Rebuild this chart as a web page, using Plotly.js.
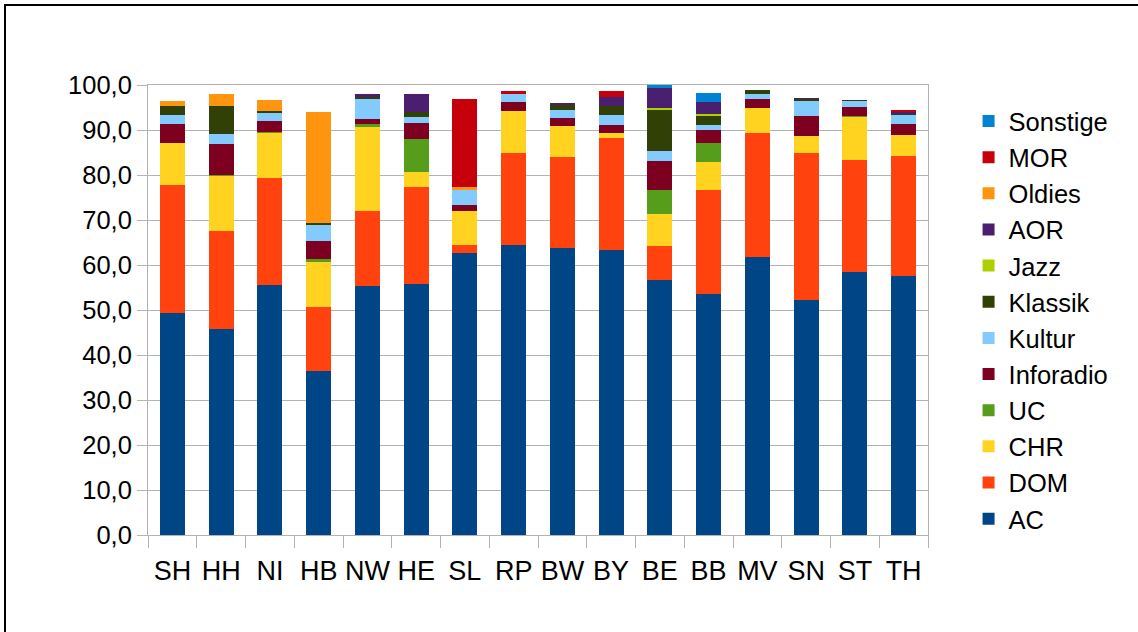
<!DOCTYPE html>
<html>
<head>
<meta charset="utf-8">
<script src="https://cdn.plot.ly/plotly-3.0.1.min.js"></script>
<style>
  html, body { margin: 0; padding: 0; background: #fff; }
  #wrap { position: relative; width: 1138px; height: 632px; overflow: hidden; }
  #chart { position: absolute; left: 0; top: 0; width: 1138px; height: 632px; }
  #frame { position: absolute; left: 4px; top: 4px; width: 1200px; height: 700px;
           border-left: 2px solid #000; border-top: 2px solid #000; pointer-events: none; }
</style>
</head>
<body>
<div id="wrap">
  <div id="chart"></div>
  <div id="frame"></div>
</div>
<script>
const categories = ["SH","HH","NI","HB","NW","HE","SL","RP","BW","BY","BE","BB","MV","SN","ST","TH"];

const AC       = [49.3, 45.7, 55.6, 36.5, 55.4, 55.8, 62.7, 64.5, 63.8, 63.4, 56.7, 53.6, 61.7, 52.3, 58.5, 57.6];
const DOM      = [28.5, 21.9, 23.7, 14.2, 16.7, 21.6,  1.8, 20.5, 20.3, 24.9,  7.6, 23.1, 27.7, 32.7, 24.9, 26.7];
const CHR      = [ 9.4, 12.2, 10.0, 10.0, 18.6,  3.3,  7.6,  9.3,  6.9,  1.1,  7.1,  6.3,  5.4,  3.7,  9.6,  4.5];
const UC       = [ 0.0,  0.3,  0.2,  0.7,  0.7,  7.4,  0.0,  0.0,  0.0,  0.0,  5.3,  4.2,  0.0,  0.0,  0.2,  0.2];
const Inforadio= [ 4.2,  6.9,  2.5,  4.0,  1.1,  3.5,  1.3,  2.0,  1.7,  1.8,  6.5,  2.9,  2.2,  4.5,  2.0,  2.4];
const Kultur   = [ 2.0,  2.2,  1.8,  3.6,  4.5,  1.4,  3.3,  1.8,  1.8,  2.2,  2.2,  1.1,  1.1,  3.3,  1.3,  2.0];
const Klassik  = [ 2.0,  6.2,  0.4,  0.4,  0.4,  0.9,  0.0,  0.0,  1.1,  2.0,  9.1,  2.0,  0.9,  0.4,  0.2,  0.2];
const Jazz     = [ 0.0,  0.0,  0.0,  0.0,  0.0,  0.0,  0.0,  0.0,  0.0,  0.0,  0.5,  0.4,  0.0,  0.0,  0.0,  0.0];
const AOR      = [ 0.0,  0.0,  0.0,  0.0,  0.5,  4.0,  0.0,  0.0,  0.5,  2.0,  4.4,  2.7,  0.0,  0.2,  0.0,  0.5];
const Oldies   = [ 1.1,  2.7,  2.4, 24.5,  0.0,  0.0,  0.7,  0.0,  0.0,  0.0,  0.0,  0.0,  0.0,  0.0,  0.0,  0.0];
const MOR      = [ 0.0,  0.0,  0.0,  0.0,  0.0,  0.0, 19.6,  0.6,  0.0,  1.3,  0.0,  0.0,  0.0,  0.0,  0.0,  0.4];
const Sonstige = [ 0.0,  0.0,  0.0,  0.0,  0.0,  0.0,  0.0,  0.0,  0.0,  0.0,  0.6,  2.0,  0.0,  0.0,  0.0,  0.0];

const seriesNames = ["AC","DOM","CHR","UC","Inforadio","Kultur","Klassik","Jazz","AOR","Oldies","MOR","Sonstige"];
const seriesValues = [AC, DOM, CHR, UC, Inforadio, Kultur, Klassik, Jazz, AOR, Oldies, MOR, Sonstige];
const seriesColors = ["#004586","#ff420e","#ffd320","#579d1c","#7e0021","#83caff","#314004","#aecf00","#4b1f6f","#ff950e","#c5000b","#0084d1"];

const FONT = "Liberation Sans, Arial, sans-serif";

const traces = seriesNames.map((name, i) => ({
  type: "bar",
  name: name,
  x: categories,
  y: seriesValues[i],
  marker: { color: seriesColors[i], line: { width: 0 } },
  hoverinfo: "x+y+name"
}));

const layout = {
  width: 1138,
  height: 632,
  margin: { l: 148, r: 210, t: 85, b: 97 },
  paper_bgcolor: "#ffffff",
  plot_bgcolor: "#ffffff",
  barmode: "stack",
  bargap: 0.49,
  separators: ", ",
  font: { family: FONT, size: 24, color: "#000000" },
  showlegend: true,
  legend: {
    x: 1.052, xanchor: "left",
    y: 0.478, yanchor: "middle",
    traceorder: "reversed",
    font: { family: FONT, size: 25.5, color: "#000000" },
    bgcolor: "rgba(0,0,0,0)"
  },
  xaxis: {
    type: "category",
    showgrid: false,
    showline: true,
    linecolor: "#b3b3b3",
    linewidth: 1,
    mirror: true,
    ticks: "outside",
    tickson: "boundaries",
    ticklen: 12,
    tickcolor: "#b3b3b3",
    tickangle: 0,
    ticklabelstandoff: 12,
    tickfont: { family: FONT, size: 27, color: "#000000" }
  },
  yaxis: {
    range: [0, 100],
    dtick: 10,
    tick0: 0,
    tickformat: ".1f",
    showgrid: true,
    gridcolor: "#b3b3b3",
    gridwidth: 1,
    zeroline: false,
    showline: true,
    linecolor: "#b3b3b3",
    linewidth: 1,
    mirror: true,
    ticks: "outside",
    ticklen: 10,
    tickcolor: "#b3b3b3",
    tickfont: { family: FONT, size: 25.5, color: "#000000" }
  }
};

Plotly.newPlot("chart", traces, layout, { displayModeBar: false, staticPlot: true });
</script>
</body>
</html>
